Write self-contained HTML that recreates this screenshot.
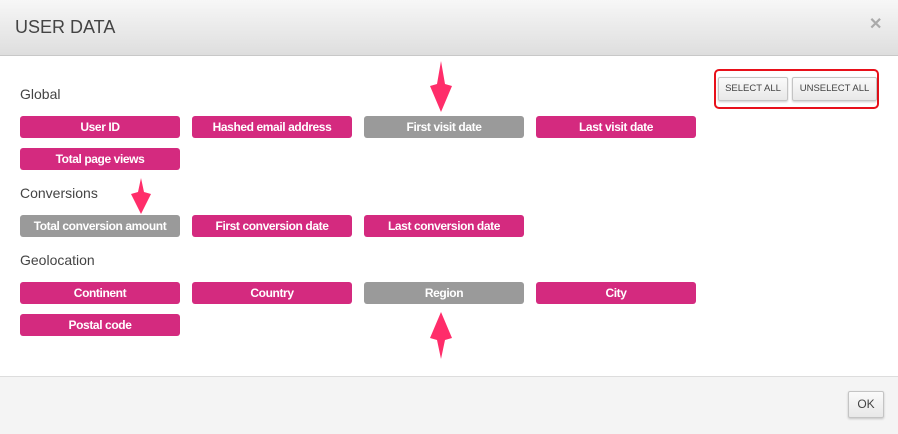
<!DOCTYPE html>
<html><head><style>
body{margin:0;width:898px;height:433px;background:#fff;font-family:"Liberation Sans",sans-serif;position:relative;overflow:hidden}
.hdr{position:absolute;left:0;top:0;width:898px;height:55px;background:linear-gradient(#f7f7f7,#dedede);border-bottom:1px solid #c8c8c8}
.hdr h1{position:absolute;left:15px;top:17px;margin:0;font-size:18px;font-weight:normal;color:#444}
.x{position:absolute;left:869px;top:14px;font-size:16px;color:#aaa;font-weight:bold}
.lbl{position:absolute;left:20px;font-size:14px;color:#444}
.b{position:absolute;width:160px;height:22px;border-radius:3px;background:#d42a7f;color:#fff;font-size:12px;font-weight:bold;text-align:center;line-height:22px;letter-spacing:-0.4px}
.g{background:#9a9a9a}
.ftr{position:absolute;left:0;top:376px;width:898px;height:57px;background:#f4f4f4;border-top:1px solid #ddd}
.btn{position:absolute;background:linear-gradient(#fafafa,#e8e8e8);border:1px solid #c4c4c4;border-radius:2px;color:#444;text-align:center;box-shadow:0 1px 2px rgba(0,0,0,.2)}
</style></head><body>
<div class="hdr"><h1>USER DATA</h1><div class="x">✕</div></div>
<div class="lbl" style="top:86px">Global</div>
<div class="b" style="left:20px;top:116px">User ID</div>
<div class="b" style="left:192px;top:116px">Hashed email address</div>
<div class="b g" style="left:364px;top:116px">First visit date</div>
<div class="b" style="left:536px;top:116px">Last visit date</div>
<div class="b" style="left:20px;top:148px">Total page views</div>
<div class="lbl" style="top:185px">Conversions</div>
<div class="b g" style="left:20px;top:215px">Total conversion amount</div>
<div class="b" style="left:192px;top:215px">First conversion date</div>
<div class="b" style="left:364px;top:215px">Last conversion date</div>
<div class="lbl" style="top:252px">Geolocation</div>
<div class="b" style="left:20px;top:282px">Continent</div>
<div class="b" style="left:192px;top:282px">Country</div>
<div class="b g" style="left:364px;top:282px">Region</div>
<div class="b" style="left:536px;top:282px">City</div>
<div class="b" style="left:20px;top:314px">Postal code</div>
<div style="position:absolute;left:714px;top:69px;width:161px;height:36px;border:2px solid #e8101a;border-radius:5px"></div>
<div class="btn" style="left:718px;top:77px;width:68px;height:22px;line-height:22px;font-size:9.5px">SELECT ALL</div>
<div class="btn" style="left:792px;top:77px;width:83px;height:22px;line-height:22px;font-size:9.5px">UNSELECT ALL</div>
<svg width="898" height="433" style="position:absolute;left:0;top:0">
<g fill="#ff2d6a">
<polygon points="441,61 445,84 452,86 441,112 430,86 437,84"/>
<polygon points="141,178 144,192 151,194 141,214 131,194 138,192"/>
<polygon points="441,312 452,338 445,340 441,359 437,340 430,338"/>
</g></svg>
<div class="ftr"></div>
<div class="btn" style="left:848px;top:391px;width:34px;height:25px;line-height:25px;font-size:12px">OK</div>
</body></html>
